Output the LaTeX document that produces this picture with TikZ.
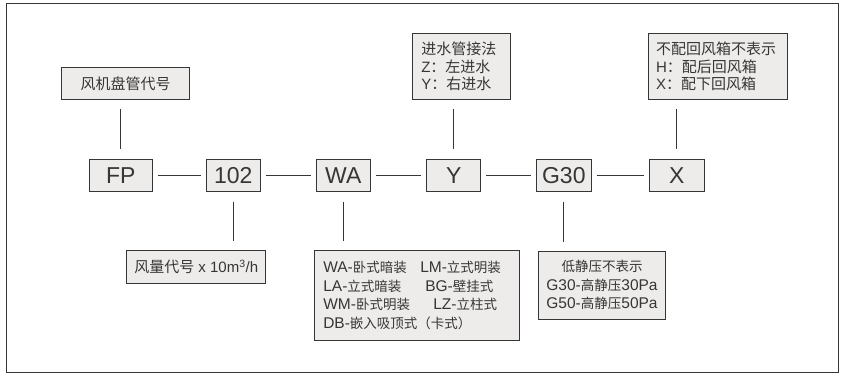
\documentclass[tikz,border=0pt]{standalone}
\usepackage{fontspec}
\setmainfont{Liberation Sans}
\newfontfamily\cjk{Noto Sans CJK SC}
\newcommand{\zh}[1]{{\cjk #1}}
\newcommand{\zs}[1]{{\cjk\fontsize{13.5}{18.5}\selectfont #1}}
\usetikzlibrary{positioning}
\definecolor{boxfill}{HTML}{EEECEA}
\definecolor{ink}{HTML}{363636}
\tikzset{
  codebox/.style={draw=ink, fill=boxfill, text=ink, line width=0.8pt,
    minimum height=32pt, minimum width=54pt, inner sep=0pt,
    font=\fontsize{23}{23}\selectfont},
  notebox/.style={draw=ink, fill=boxfill, text=ink, line width=0.8pt,
    inner ysep=0pt, font=\fontsize{15}{17.5}\selectfont},
  smallnote/.style={notebox, font=\fontsize{15.5}{18.5}\selectfont},
  link/.style={draw=ink, line width=0.8pt, shorten <=5pt, shorten >=5pt},
  vlink/.style={draw=ink, line width=0.8pt, shorten <=10pt, shorten >=9pt},
}

\begin{document}
\begin{tikzpicture}[x=1pt, y=-1pt]
\useasboundingbox (0,0) rectangle (845,378);
\draw[ink, line width=0.8pt] (6,3) rectangle (838,372);

% model code row
\node[codebox, minimum width=63pt] (fp) at (120.8,175.3) {FP};
\node[codebox] (size) at (233.3,175.3) {102};
\node[codebox] (mount) at (343.3,175.3) {WA};
\node[codebox] (inlet) at (453.8,175.3) {Y};
\node[codebox, minimum width=55pt] (press) at (563.8,175.3) {G30};
\node[codebox, minimum width=55pt] (ret) at (676.8,175.3) {X};

\draw[link] (fp) -- (size);
\draw[link] (size) -- (mount);
\draw[link] (mount) -- (inlet);
\draw[link] (inlet) -- (press);
\draw[link] (press) -- (ret);

% notes above
\node[notebox, minimum width=128.4pt, minimum height=32pt] (fpnote) at (125.5,83.3)
  {\zh{风机盘管代号}};
\node[notebox, inner xsep=9pt, text width=80pt, align=left, minimum height=66pt]
  (inletnote) at (461.3,66.3)
  {\zh{进水管接法}\\Z\zh{：左进水}\\Y\zh{：右进水}};
\node[notebox, inner xsep=7.7pt, text width=123.6pt, align=left, minimum height=66pt]
  (retnote) at (717.8,66.3)
  {\zh{不配回风箱不表示}\\H\zh{：配后回风箱}\\X\zh{：配下回风箱}};

% notes below
\node[notebox, minimum width=139pt, minimum height=33.7pt] (sizenote) at (196.2,266.9)
  {\zh{风量代号} x 10m\textsuperscript{3}/h};
\node[smallnote, inner xsep=9pt, text width=187pt, align=left, minimum height=90.7pt]
  (mountnote) at (416.8,295.4)
  {\makebox[97pt][l]{WA-\zs{卧式暗装}}LM-\zs{立式明装}\\
   \makebox[102pt][l]{LA-\zs{立式暗装}}BG-\zs{壁挂式}\\
   \makebox[110pt][l]{WM-\zs{卧式明装}}LZ-\zs{立柱式}\\
   DB-\zs{嵌入吸顶式（卡式）}};
\node[smallnote, minimum width=127.4pt, minimum height=68pt, align=center]
  (pressnote) at (602,285.3)
  {\zs{低静压不表示}\\G30-\zs{高静压}30Pa\\G50-\zs{高静压}50Pa};

\draw[vlink] (fp.north) -- (fp.north |- fpnote.south);
\draw[vlink] (inlet.north) -- (inlet.north |- inletnote.south);
\draw[vlink] (ret.north) -- (ret.north |- retnote.south);
\draw[vlink] (size.south) -- (size.south |- sizenote.north);
\draw[vlink] (mount.south) -- (mount.south |- mountnote.north);
\draw[vlink] (press.south) -- (press.south |- pressnote.north);
\end{tikzpicture}
\end{document}
